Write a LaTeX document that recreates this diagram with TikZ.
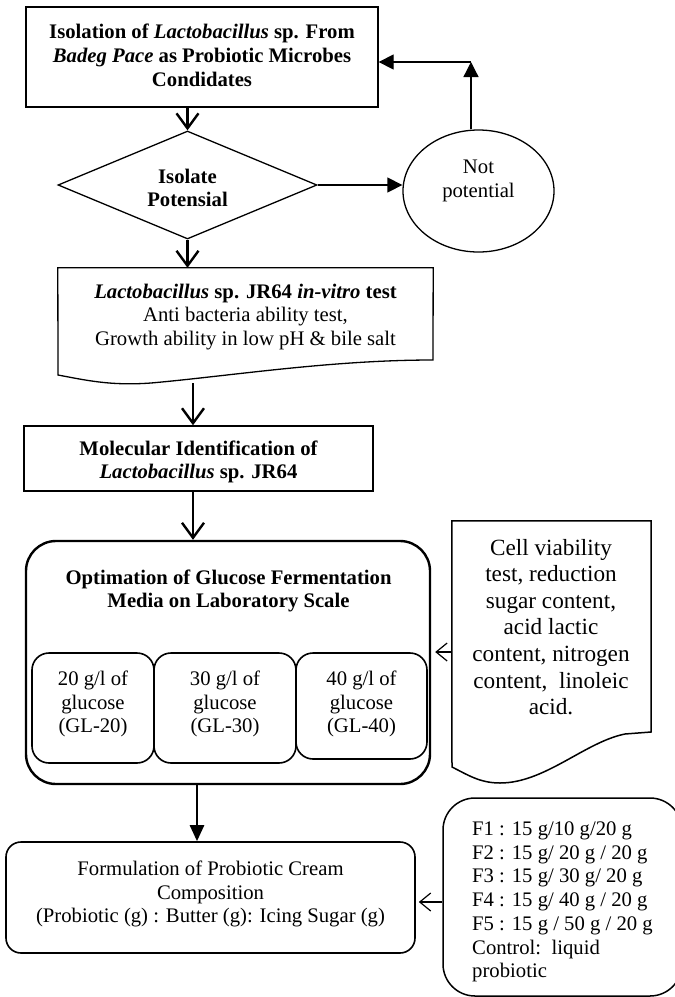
\documentclass[tikz,border=0pt]{standalone}
\usepackage{fontspec}
\setmainfont{Liberation Serif}
\usetikzlibrary{arrows.meta,shapes.geometric,calc}
\begin{document}
\begin{tikzpicture}[x=1pt,y=-1pt,
  txt/.style={align=center, inner sep=0, font={\fontsize{20.7}{23.7}\selectfont}},
  btxt/.style={txt, font={\fontsize{20.7}{23.7}\selectfont\bfseries}},
  box/.style={draw, line width=1.3pt, inner sep=0},
  rbox/.style={draw, line width=1.6pt, inner sep=0},
  area/.style={inner sep=0},
  vee/.style={line width=2.4pt, -{Straight Barb[length=15pt,width=22pt]}},
  tri/.style={line width=1.3pt, -{Triangle[length=15pt,width=15pt]}},
  fat/.style={line width=2.6pt, -{Triangle[length=16pt,width=14pt]}},
  openarr/.style={line width=1.2pt, -{Straight Barb[length=11pt,width=18pt]}}
]
\useasboundingbox (0,0) rectangle (675,997);
\fill[white] (0,0) rectangle (675,997);
\begin{scope}
\clip (0,0) rectangle (675,997);

% Box 1
\node[box, minimum width=352, minimum height=100] (b1) at (202,57) {};
\node[btxt] (b1t) at (202,55.5) {Isolation of \textit{Lactobacillus} sp. From\\\textit{Badeg Pace} as Probiotic Microbes\\Condidates};

% Diamond
\node[diamond, draw, line width=1.3pt, minimum width=259, minimum height=108, inner sep=0] (d) at (187.5,185) {};
\node[btxt] (dt) at (187.5,188) {Isolate\\Potensial};

% Ellipse
\node[ellipse, draw, line width=1.3pt, minimum width=151, minimum height=122, inner sep=0] (np) at (478.5,191) {};
\node[txt] (npt) at (478.5,181) {Not\\potential};

% loop back
\coordinate (c1) at (471,62);
\draw[tri] (np.north -| c1) -- (c1);
\draw[tri] (c1) -- (c1 -| b1.east);
\draw[tri] (d.east) -- (d.east -| np.west);

% Document box
\node[area, minimum width=375, minimum height=115] (doc) at (245.5,325.5) {};
\draw[line width=1.3pt] (doc.north west) -- (doc.north east) -- (433,360)
  .. controls (330,360) and (230,376) .. (151,383)
  .. controls (110,386) and (85,380) .. (58,375) -- cycle;
\node[txt] (doct) at (245.5,317) {\textbf{\textit{Lactobacillus} sp. JR64 \textit{in-vitro} test}\\Anti bacteria ability test,\\Growth ability in low pH \& bile salt};

\draw[vee] (d.north |- b1.south) -- (d.north);
\draw[vee] (d.south) -- (d.south |- doc.north);

% Box 3
\node[box, line width=1.5pt, minimum width=349, minimum height=65] (b3) at (198.5,458.5) {};
\node[btxt] (b3t) at (198.5,462) {Molecular Identification of\\\textit{Lactobacillus} sp. JR64};
\coordinate (x3) at ([xshift=-5.5pt]b3.north);
\draw[vee] (x3 |- doc.south) -- (x3);

% Big rounded box
\node[draw, line width=2.4pt, rounded corners=30pt, minimum width=404, minimum height=243, inner sep=0] (big) at (228,662.5) {};
\node[btxt] (bigt) at (228.5,591) {Optimation of Glucose Fermentation\\Media on Laboratory Scale};
\coordinate (x4) at ([xshift=-5.5pt]b3.south);
\draw[vee] (x4) -- (x4 |- big.north);

% inner boxes
\node[rbox, rounded corners=17pt, minimum width=122, minimum height=110] (ga) at (93,708) {};
\node[rbox, rounded corners=17pt, minimum width=142, minimum height=110] (gb) at (225,708) {};
\node[rbox, rounded corners=17pt, minimum width=131, minimum height=106] (gc) at (361.5,706) {};
\node[txt] (gat) at (93,704) {20 g/l of\\glucose\\(GL-20)};
\node[txt] (gbt) at (225,704) {30 g/l of\\glucose\\(GL-30)};
\node[txt] (gct) at (361.5,704) {40 g/l of\\glucose\\(GL-40)};

% Cell viability document
\node[area, minimum width=199, minimum height=262] (cell) at (551.5,652) {};
\draw[line width=1.5pt] (cell.north west) -- (cell.north east) -- (651,732) -- (625,734)
  .. controls (585,742) and (545,783) .. (500,783)
  .. controls (480,783) and (468,775) .. (452,767) -- cycle;
\node[txt, font={\fontsize{23.2}{26.6}\selectfont}] (cellt) at (551,627) {Cell viability\\test, reduction\\sugar content,\\acid lactic\\content, nitrogen\\content,\ \ linoleic\\acid.};
\draw[openarr, shorten >=4pt] (cell.west) -- (cell.west -| big.east);

% Formulation
\node[rbox, rounded corners=15pt, minimum width=409, minimum height=111] (form) at (210.5,897.5) {};
\node[txt] (formt) at (210.5,894) {Formulation of Probiotic Cream\\Composition\\(Probiotic (g) : Butter (g): Icing Sugar (g)};
\coordinate (x5) at ([xshift=-31pt]big.south);
\draw[fat] (x5) -- (x5 |- form.north);

% F box
\node[draw, line width=1.5pt, rounded corners=32pt, minimum width=239, minimum height=198, inner sep=0] (fb) at (562.5,897) {};
\node[txt, align=left, anchor=west] (fbt) at (472,902) {F1 : 15 g/10 g/20 g\\F2 : 15 g/ 20 g / 20 g\\F3 : 15 g/ 30 g/ 20 g\\F4 : 15 g/ 40 g / 20 g\\F5 : 15 g / 50 g / 20 g\\Control:\ \ liquid\\probiotic};
\coordinate (x6) at ([yshift=-5pt]fb.west);
\draw[openarr, shorten >=3pt] (x6) -- (x6 -| form.east);
\end{scope}
\end{tikzpicture}
\end{document}
